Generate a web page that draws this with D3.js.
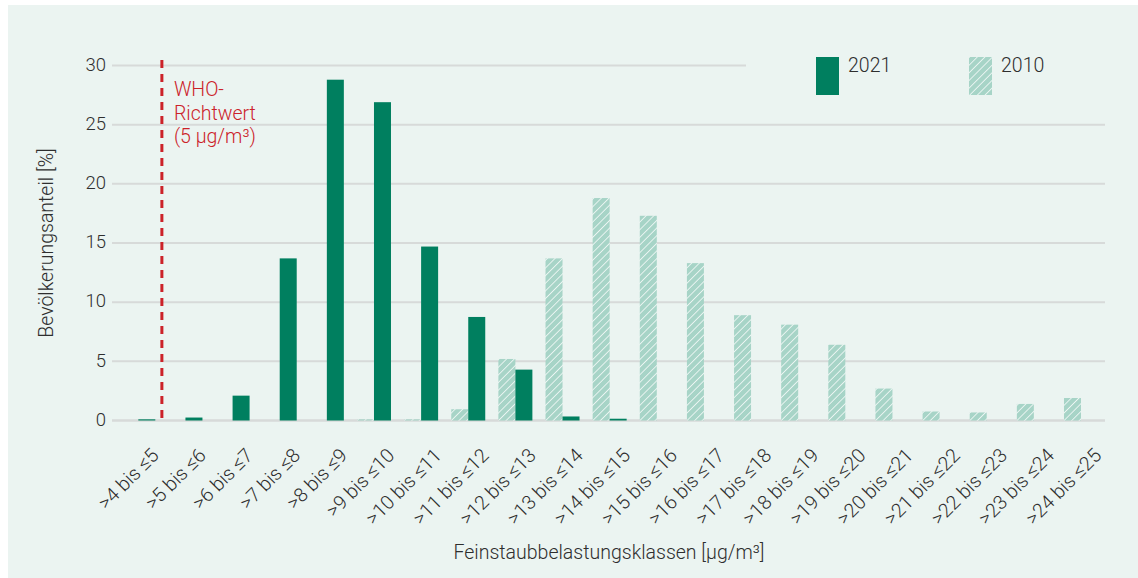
<!DOCTYPE html>
<html>
<head>
<meta charset="utf-8">
<script src="https://cdn.jsdelivr.net/npm/d3@7"></script>
<style>
  html, body { margin: 0; padding: 0; background: #ffffff; }
  svg { display: block; font-family: Roboto, "Noto Sans", sans-serif; font-weight: 300; }
</style>
</head>
<body>
<svg id="chart" width="1138" height="578"></svg>
<script>
const categories = [">4 bis ≤5", ">5 bis ≤6", ">6 bis ≤7", ">7 bis ≤8", ">8 bis ≤9", ">9 bis ≤10",
  ">10 bis ≤11", ">11 bis ≤12", ">12 bis ≤13", ">13 bis ≤14", ">14 bis ≤15", ">15 bis ≤16",
  ">16 bis ≤17", ">17 bis ≤18", ">18 bis ≤19", ">19 bis ≤20", ">20 bis ≤21", ">21 bis ≤22",
  ">22 bis ≤23", ">23 bis ≤24", ">24 bis ≤25"];
const values2010 = [0, 0, 0, 0, 0, 0.1, 0.1, 0.95, 5.2, 13.7, 18.8, 17.3, 13.3, 8.9, 8.1, 6.4, 2.7, 0.76, 0.68, 1.4, 1.9];
const values2021 = [0.1, 0.25, 2.1, 13.7, 28.8, 26.9, 14.7, 8.75, 4.3, 0.34, 0.15, 0, 0, 0, 0, 0, 0, 0, 0, 0, 0];
const seriesNames = ["2010", "2021"];
const yTicks = [0, 5, 10, 15, 20, 25, 30];
const whoLabel = ["WHO-", "Richtwert", "(5 µg/m³)"];
const yTitle = "Bevölkerungsanteil [%]";
const xTitle = "Feinstaubbelastungsklassen [µg/m³]";

const col2021 = "#007f5f";
const col2010 = "#a7d4c7";
const textCol = "#2e2e2e";
const svg = d3.select("#chart");

const defs = svg.append("defs");
const pat = defs.append("pattern")
  .attr("id", "hatch").attr("patternUnits", "userSpaceOnUse")
  .attr("width", 5.4).attr("height", 5.4)
  .attr("patternTransform", "rotate(45)");
pat.append("rect").attr("width", 5.4).attr("height", 5.4).attr("fill", col2010);
pat.append("line").attr("x1", 0).attr("y1", 0).attr("x2", 0).attr("y2", 5.4)
  .attr("stroke", "#ffffff").attr("stroke-width", 1.4);

svg.append("rect").attr("x", 8).attr("y", 5).attr("width", 1130).attr("height", 573).attr("fill", "#ebf4f1");

const x0 = d3.scaleBand().domain(categories).range([113.3, 1106]).paddingInner(0.2786).paddingOuter(0.17);
const x1 = d3.scaleBand().domain(seriesNames).range([0, x0.bandwidth()]);
const y = d3.scaleLinear().domain([0, 30]).range([420.5, 65.5]);

// grid
svg.append("g").selectAll("line").data(yTicks).join("line")
  .attr("x1", 112)
  .attr("x2", d => d === 30 ? 746 : 1105)
  .attr("y1", d => y(d)).attr("y2", d => y(d))
  .attr("stroke", "#d7dad9").attr("stroke-width", d => d === 0 ? 2.5 : 2);

// y labels
svg.append("g").selectAll("text").data(yTicks).join("text")
  .attr("x", 106).attr("y", d => y(d)).attr("dy", "0.28em")
  .attr("text-anchor", "end").attr("font-size", 18.5).attr("fill", textCol)
  .text(d => d);

svg.append("text")
  .attr("transform", `translate(53,243) rotate(-90)`)
  .attr("text-anchor", "middle").attr("font-size", 19.5).attr("fill", textCol)
  .text(yTitle);

// bars
const groups = svg.append("g").selectAll("g").data(categories).join("g")
  .attr("transform", d => `translate(${x0(d)},0)`);
groups.append("rect")
  .attr("x", x1("2010")).attr("width", x1.bandwidth())
  .attr("y", (d, i) => y(values2010[i]))
  .attr("height", (d, i) => y(0) - y(values2010[i]))
  .attr("fill", "url(#hatch)");
groups.append("rect")
  .attr("x", x1("2021")).attr("width", x1.bandwidth())
  .attr("y", (d, i) => y(values2021[i]))
  .attr("height", (d, i) => y(0) - y(values2021[i]))
  .attr("fill", col2021);

// x labels
svg.append("g").selectAll("text").data(categories).join("text")
  .attr("transform", d => `translate(${x0(d) + x0.bandwidth() / 2 + 12},447) rotate(-45)`)
  .attr("text-anchor", "end").attr("dy", "0.7em")
  .attr("font-size", 19.5).attr("fill", textCol)
  .text(d => d);

svg.append("text")
  .attr("x", 609).attr("y", 559).attr("text-anchor", "middle")
  .attr("font-size", 19.5).attr("fill", textCol).text(xTitle);

// WHO line
const xWho = x0(categories[0]) + x0.bandwidth() + (x0.step() - x0.bandwidth()) / 2;
svg.append("line")
  .attr("x1", xWho).attr("x2", xWho).attr("y1", 60).attr("y2", 420)
  .attr("stroke", "#cc2229").attr("stroke-width", 3).attr("stroke-dasharray", "8,6");
svg.append("g").selectAll("text").data(whoLabel).join("text")
  .attr("x", xWho + 12).attr("y", (d, i) => 96 + i * 23.5)
  .attr("font-size", 19.5).attr("fill", "#cc2229").text(d => d);

// legend
const legend = [{ name: "2021", fill: col2021, x: 816 }, { name: "2010", fill: "url(#hatch)", x: 969 }];
const lg = svg.append("g").selectAll("g").data(legend).join("g")
  .attr("transform", d => `translate(${d.x},57)`);
lg.append("rect").attr("width", 23).attr("height", 38).attr("fill", d => d.fill);
lg.append("text").attr("x", 32).attr("y", 15).attr("font-size", 19.5).attr("fill", textCol).text(d => d.name);
</script>
</body>
</html>
